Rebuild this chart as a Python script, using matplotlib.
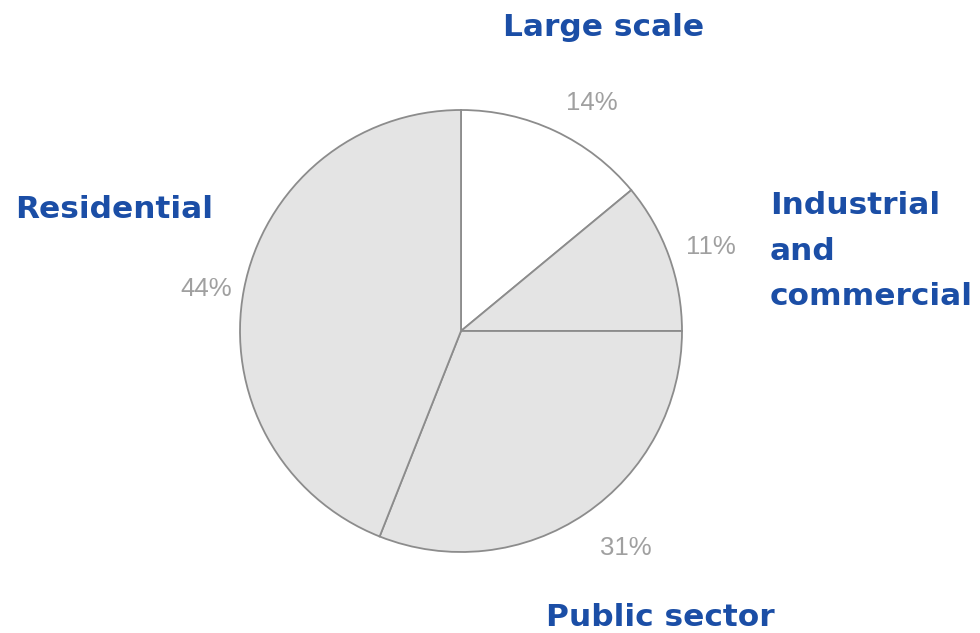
import matplotlib.pyplot as plt

# shares of the pie, clockwise from 12 o'clock
categories = ['Large scale', 'Industrial\nand\ncommercial', 'Public sector', 'Residential']
shares = [14, 11, 31, 44]
slice_colors = ['#ffffff', '#e4e4e4', '#e4e4e4', '#e4e4e4']

W, H = 980, 633

fig = plt.figure(figsize=(W / 100, H / 100), dpi=100)
ax = fig.add_axes([0, 0, 1, 1])

cx, cy, rad = 461, H - 331, 221
ax.pie(shares, colors=slice_colors, startangle=90, counterclock=False,
       center=(cx, cy), radius=rad, frame=True,
       wedgeprops=dict(edgecolor='#8c8c8c', linewidth=1.3))
ax.set_xlim(0, W)
ax.set_ylim(0, H)
ax.set_aspect('equal')
ax.axis('off')

# percentage labels (gray)
pct_pos = [(592, 103), (711, 247), (626, 548), (206, 289)]
for v, (x, y) in zip(shares, pct_pos):
    ax.text(x, H - y, f'{v}%', ha='center', va='center', fontsize=18.5,
            color='#a0a0a0', family='Liberation Sans')

# category labels (blue, bold)
blue = '#1b4ea6'
fs = 22.5
ax.text(604, H - 28, categories[0], ha='center', va='center', fontsize=fs,
        fontweight='bold', color=blue)
ax.text(770, H - 251, categories[1], ha='left', va='center', fontsize=fs,
        fontweight='bold', color=blue, linespacing=1.72)
ax.text(660, H - 618, categories[2], ha='center', va='center', fontsize=fs,
        fontweight='bold', color=blue)
ax.text(15, H - 210, categories[3], ha='left', va='center', fontsize=fs,
        fontweight='bold', color=blue)

fig.savefig('out.png', dpi=100)
